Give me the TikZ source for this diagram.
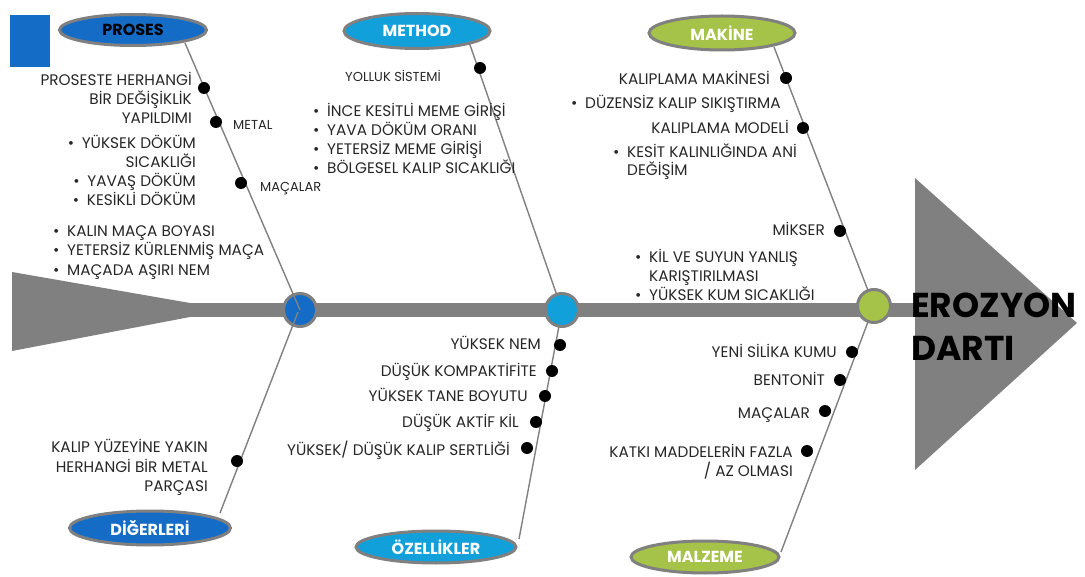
\documentclass[tikz,border=0pt]{standalone}
\usepackage{fontspec}
\setmainfont{Poppins}
\usetikzlibrary{shapes.geometric}
\definecolor{bonegray}{RGB}{128,128,128}
\definecolor{ink}{RGB}{38,38,38}
\definecolor{catblue}{RGB}{20,108,198}
\definecolor{catcyan}{RGB}{18,160,219}
\definecolor{catgreen}{RGB}{165,194,73}
% bullet with a fixed gap before the item text
\newcommand\bul{\makebox[14pt][l]{•}}
\newcommand\ind{\hspace*{14pt}}
\begin{document}
\begin{tikzpicture}[x=1pt,y=-1pt,
  item/.style={font=\fontsize{15.3}{18}\selectfont, text=ink, inner sep=0pt},
  R/.style={item, anchor=base east},
  L/.style={item, anchor=base west},
  smalltxt/.style={font=\fontsize{13}{15}\selectfont, text=ink, inner sep=0pt, anchor=base west},
  cat/.style={ellipse, draw=bonegray, line width=3pt, inner sep=0pt,
    font=\bfseries\fontsize{16}{18}\selectfont, text=white},
  hub/.style={circle, draw=bonegray, line width=3pt, minimum size=33, inner sep=0pt},
  dot/.style={circle, fill=black, inner sep=0pt, minimum size=12},
  bone/.style={draw=bonegray, line width=1.4pt}]
\useasboundingbox (0,0) rectangle (1085,577);

% corner square
\fill[catblue] (10,15) rectangle (50,67);

% tail and spine
\fill[bonegray] (12,272) -- (190,303) -- (190,317) -- (12,351) -- cycle;
\coordinate (spineL) at (188,310);
\coordinate (spineR) at (917,310);
\draw[bonegray, line width=14pt] (spineL) -- (spineR);

% head
\fill[bonegray] (915,178) -- (1077,323) -- (915,470) -- cycle;

% bone end points inside the category ellipses
\coordinate (eP) at (185,43);
\coordinate (eD) at (220,513);
\coordinate (eM) at (469,42);
\coordinate (eO) at (519,539);
\coordinate (eK) at (774,47);
\coordinate (eZ) at (781,552);
\coordinate (h1) at (300,310);
\coordinate (h2) at (562,310);
\coordinate (h3) at (874,306);

% bones of the right two hubs run under them
\draw[bone] (eM) -- (h2);
\draw[bone] (eO) -- (h2);
\draw[bone] (eK) -- (h3);
\draw[bone] (eZ) -- (h3);
\node[hub, fill=catcyan] (c2) at (h2) {};
\node[hub, fill=catgreen] (c3) at (h3) {};
% the left hub is crossed by its bones
\node[hub, fill=catblue] (c1) at (h1) {};
\draw[bone] (eP) -- (c1.center);
\draw[bone] (eD) -- ([shift={(-2,2)}]c1.center);

% category ellipses
\node[cat, fill=catblue, text=black, minimum width=147, minimum height=31] (proses) at (133,30) {PROSES};
\node[cat, fill=catcyan, minimum width=146, minimum height=35] (method) at (417,31) {METHOD};
\node[cat, fill=catgreen, minimum width=146, minimum height=34] (makine) at (722,33) {MAKİNE};
\node[cat, fill=catblue, minimum width=161, minimum height=34] (digerleri) at (150,528) {DİĞERLERİ};
\node[cat, fill=catcyan, minimum width=160, minimum height=32] (ozellikler) at (436,547) {ÖZELLİKLER};
\node[cat, fill=catgreen, minimum width=148, minimum height=32] (malzeme) at (705,557) {MALZEME};

% causes on the bones
\node[dot] (d1) at (204,88) {};
\node[dot] (d2) at (216,122) {};
\node[dot] (d3) at (241,183) {};
\node[dot] (d4) at (237,461) {};
\node[dot] (d5) at (480,68) {};
\node[dot] (d6) at (786,78) {};
\node[dot] (d7) at (803,128) {};
\node[dot] (d8) at (840,231) {};
\node[dot] (d9) at (560,345) {};
\node[dot] (d10) at (552,371) {};
\node[dot] (d11) at (545,396) {};
\node[dot] (d12) at (536,422) {};
\node[dot] (d13) at (527,448) {};
\node[dot] (d14) at (852,352) {};
\node[dot] (d15) at (840,380) {};
\node[dot] (d16) at (825,411) {};
\node[dot] (d17) at (807,451) {};

% PROSES
\node[R] (t1) at (192,86) {PROSESTE HERHANGİ};
\node[R] (t2) at (192,105) {BİR DEĞİŞİKLİK};
\node[R] (t3) at (192,124) {YAPILDIMI};
\node[smalltxt] (t4) at (233,130) {METAL};
\node[R] (t5) at (196,149) {\bul YÜKSEK DÖKÜM};
\node[R] (t6) at (196,168) {SICAKLIĞI};
\node[R] (t7) at (196,187) {\bul YAVAŞ DÖKÜM};
\node[R] (t8) at (196,206) {\bul KESİKLİ DÖKÜM};
\node[smalltxt] (t9) at (260,192) {MAÇALAR};
\node[L] (t10) at (53,237) {\bul KALIN MAÇA BOYASI};
\node[L] (t11) at (53,256) {\bul YETERSİZ KÜRLENMİŞ MAÇA};
\node[L] (t12) at (53,276) {\bul MAÇADA AŞIRI NEM};

% METHOD
\node[smalltxt] (t13) at (345,82) {YOLLUK SİSTEMİ};
\node[L] (t14) at (313,117) {\bul İNCE KESİTLİ MEME GİRİŞİ};
\node[L] (t15) at (313,136) {\bul YAVA DÖKÜM ORANI};
\node[L] (t16) at (313,155) {\bul YETERSİZ MEME GİRİŞİ};
\node[L] (t17) at (313,174) {\bul BÖLGESEL KALIP SICAKLIĞI};

% MAKİNE
\node[R] (t18) at (770,85) {KALIPLAMA MAKİNESİ};
\node[L] (t19) at (571,109) {\bul DÜZENSİZ KALIP SIKIŞTIRMA};
\node[R] (t20) at (789,134) {KALIPLAMA MODELİ};
\node[L] (t21) at (613,158) {\bul KESİT KALINLIĞINDA ANİ};
\node[L] (t22) at (613,176) {\ind DEĞİŞİM};
\node[R] (t23) at (825,236) {MİKSER};
\node[L] (t24) at (635,263) {\bul KİL VE SUYUN YANLIŞ};
\node[L] (t25) at (635,282) {\ind KARIŞTIRILMASI};
\node[L] (t26) at (635,301) {\bul YÜKSEK KUM SICAKLIĞI};

% ÖZELLİKLER
\node[R] (t27) at (541,350) {YÜKSEK NEM};
\node[R] (t28) at (537,377) {DÜŞÜK KOMPAKTİFİTE};
\node[R] (t29) at (528,402) {YÜKSEK TANE BOYUTU};
\node[R] (t30) at (519,428) {DÜŞÜK AKTİF KİL};
\node[R] (t31) at (510,455) {YÜKSEK/ DÜŞÜK KALIP SERTLİĞİ};

% DİĞERLERİ
\node[R] (t32) at (208,453) {KALIP YÜZEYİNE YAKIN};
\node[R] (t33) at (208,472) {HERHANGİ BİR METAL};
\node[R] (t34) at (208,491) {PARÇASI};

% MALZEME
\node[R] (t35) at (837,358) {YENİ SİLİKA KUMU};
\node[R] (t36) at (825,386) {BENTONİT};
\node[R] (t37) at (810,418) {MAÇALAR};
\node[R] (t38) at (793,457) {KATKI MADDELERİN FAZLA};
\node[R] (t39) at (793,476) {/ AZ OLMASI};

% effect
\node[anchor=base west, inner sep=0pt, font=\bfseries\fontsize{34.5}{40}\selectfont, text=black] (eff1) at (911,318) {EROZYON};
\node[anchor=base west, inner sep=0pt, font=\bfseries\fontsize{34.5}{40}\selectfont, text=black] (eff2) at (911,361) {DARTI};
\end{tikzpicture}
\end{document}
